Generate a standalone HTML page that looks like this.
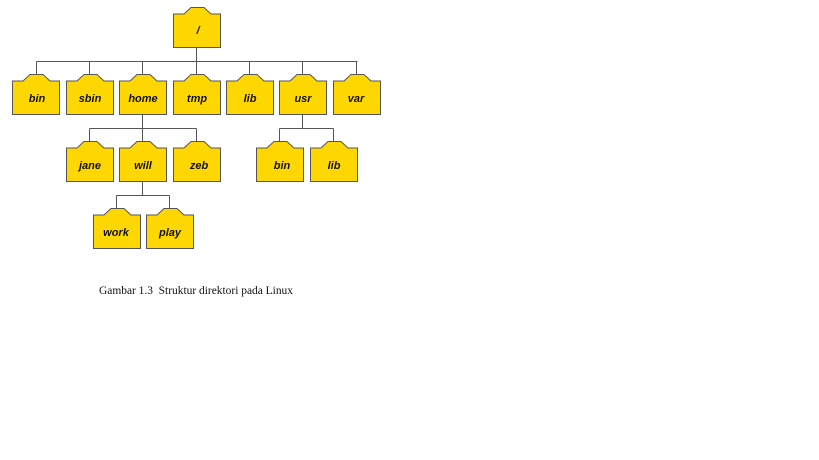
<!DOCTYPE html>
<html><head><meta charset="utf-8"><style>
html,body{margin:0;padding:0;background:#fff;width:819px;height:460px;overflow:hidden}
svg{position:absolute;left:0;top:0}
</style></head><body>
<svg width="819" height="460" xmlns="http://www.w3.org/2000/svg">
<defs>
<path id="f" d="M0.5,7 H11 L18,0.5 H31 L38,7 H47.5 V40.5 H0.5 Z" fill="#FFD700" stroke="#555" stroke-width="1"/>
</defs>
<g stroke="#555" stroke-width="1" fill="none">
<path d="M196.5,47 V61.5 M36.5,61.5 H357.5 M36.5,61.5 V74 M89.5,61.5 V74 M142.5,61.5 V74 M196.5,61.5 V74 M249.5,61.5 V74 M302.5,61.5 V74 M356.5,61.5 V74"/>
<path d="M142.5,115 V128.5 M89.5,128.5 H196.5 M89.5,128.5 V141 M142.5,128.5 V141 M196.5,128.5 V141"/>
<path d="M302.5,115 V128.5 M279.5,128.5 H333.5 M279.5,128.5 V141 M333.5,128.5 V141"/>
<path d="M142.5,182 V195.5 M116.5,195.5 H169.5 M116.5,195.5 V208 M169.5,195.5 V208"/>
</g>
<use href="#f" x="173" y="7"/>
<use href="#f" x="12" y="74"/><use href="#f" x="66" y="74"/><use href="#f" x="119" y="74"/><use href="#f" x="173" y="74"/><use href="#f" x="226" y="74"/><use href="#f" x="279" y="74"/><use href="#f" x="333" y="74"/>
<use href="#f" x="66" y="141"/><use href="#f" x="119" y="141"/><use href="#f" x="173" y="141"/>
<use href="#f" x="256" y="141"/><use href="#f" x="310" y="141"/>
<use href="#f" x="93" y="208"/><use href="#f" x="146" y="208"/>
<g font-family="Liberation Sans, sans-serif" font-size="11" font-weight="bold" font-style="italic" text-anchor="middle" fill="#111">
<text x="198" y="34">/</text>
<text x="37" y="102">bin</text><text x="90" y="102">sbin</text><text x="143" y="102">home</text><text x="197" y="102">tmp</text><text x="250" y="102">lib</text><text x="303" y="102">usr</text><text x="356" y="102">var</text>
<text x="90" y="169">jane</text><text x="143" y="169">will</text><text x="199" y="169">zeb</text>
<text x="282" y="169">bin</text><text x="334" y="169">lib</text>
<text x="116" y="236">work</text><text x="170" y="236">play</text>
</g>
<text x="99" y="294" font-family="Liberation Serif, serif" font-size="12" fill="#111" xml:space="preserve" textLength="194" lengthAdjust="spacingAndGlyphs">Gambar 1.3  Struktur direktori pada Linux</text>
</svg>
</body></html>
